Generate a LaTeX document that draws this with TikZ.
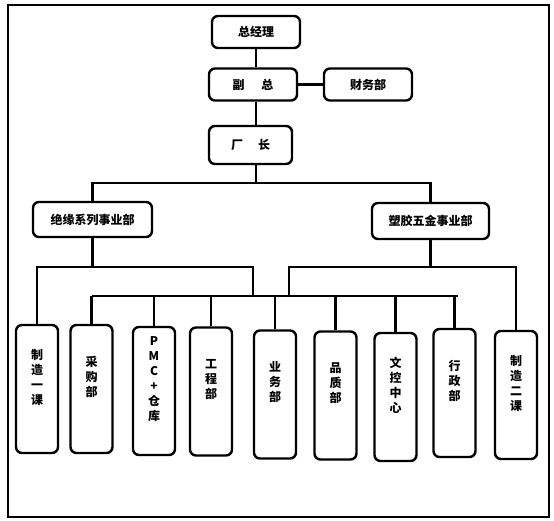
\documentclass[tikz,border=0pt]{standalone}
\usepackage{fontspec}
\setmainfont{Noto Sans CJK SC}
\usepackage{tikz}
\usetikzlibrary{calc,positioning}

\begin{document}
\begin{tikzpicture}[x=1pt, y=-1pt,
    font=\fontsize{12}{15}\selectfont\bfseries,
    conn/.style={line width=2.4pt},
    post/.style={draw, line width=2.4pt, rounded corners=6pt, fill=white,
                 minimum width=88pt, minimum height=32pt, inner sep=0pt},
    unit/.style={draw, line width=2.4pt, rounded corners=6pt, fill=white,
                 minimum width=42pt, minimum height=128pt, inner sep=0pt},
    vtext/.style={align=center, inner sep=0pt}]
  \useasboundingbox (0,0) rectangle (554,520);
  \draw[line width=1.6pt] (8,5) rectangle (549,517);
  % top chain
  \node[post] (zjl) at (256,32) {总经理};
  \node[post] (fz) at (253,84.5) {副\hspace{17pt}总};
  \node[post] (cwb) at (368,84.5) {财务部};
  \node[post, minimum width=83pt, minimum height=38pt] (cz) at (250.5,145)
      {厂\hspace{15pt}长};
  \draw[conn] (zjl.south) -- (zjl.south |- fz.north);
  \draw[conn] (zjl.south |- fz.south) -- (zjl.south |- cz.north);
  \draw[conn] (fz) -- (cwb);
  % two business units
  \node[post, minimum width=119pt, minimum height=35pt] (jy) at (92.5,219.5)
      {绝缘系列事业部};
  \node[post, minimum width=117pt, minimum height=36pt] (sj) at (430.5,221)
      {塑胶五金事业部};
  \coordinate (busA) at (256,183);
  \draw[conn] (zjl.south |- cz.south) -- (busA);
  \draw[conn] (jy.north) |- (busA) -| (sj.north);
  % departments (box, then its text a bit above centre)
  \foreach \n/\x/\y/\t in {zz1/37/389/{制\\造\\一\\课}, cg/91.5/389/{采\\购\\部},
      pmc/154/391/{P\\M\\C\\+\\仓\\库}, gc/211/391.5/{工\\程\\部},
      yw/275/394.5/{业\\务\\部}, pz/335.5/395.5/{品\\质\\部},
      wk/395.5/397/{文\\控\\中\\心}, xz/454.5/393/{行\\政\\部},
      zz2/516/395/{制\\造\\二\\课}} {
    \node[unit] (\n) at (\x,\y) {};
    \node[vtext] (\n-t) at ([yshift=12pt]\n.center) {\t};
  }
  % lower buses
  \coordinate (busL) at (253,267);
  \coordinate (busR) at (289,267);
  \coordinate (busM) at (253,296);
  \draw[conn] (jy.south) -- (jy.south |- busL);
  \draw[conn] (zz1.north) |- (busL) -- (busM);
  \draw[conn] (sj.south) -- (sj.south |- busR);
  \draw[conn] (zz2.north) |- (busR) -- (busR |- busM);
  \draw[conn] (cg.north |- busM) -- ([xshift=3pt]xz.north |- busM);
  \foreach \n in {cg,pmc,gc,yw,pz,wk,xz}
    \draw[conn] (\n.north) -- (\n.north |- busM);
\end{tikzpicture}
\end{document}
